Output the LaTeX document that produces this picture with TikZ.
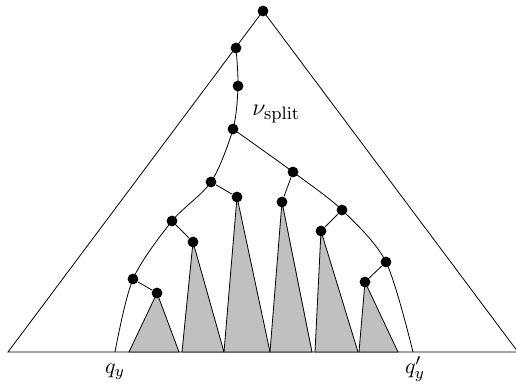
\documentclass[tikz,border=0pt]{standalone}
\usepackage{amsmath}
\usepackage{xcolor}
\usepackage{tikz}
\usetikzlibrary{positioning,backgrounds}
\definecolor{subgray}{RGB}{192,192,192}
\tikzset{
  dot/.style={circle,fill=black,inner sep=0pt,minimum size=5.4pt},
  subtree/.style={draw,fill=subgray},
  lbl/.style={inner sep=0pt,anchor=base,font=\fontsize{11}{13}\selectfont},
}

\begin{document}
\begin{tikzpicture}[x=0.5pt,y=-0.5pt,line width=0.5pt]
  \useasboundingbox (0,0) rectangle (516,387);
  % spine down to the split node
  \node[dot] (top) at (263,11) {};
  \node[dot] (u1) at (236,48) {};
  \node[dot] (u2) at (238,86) {};
  \node[dot] (vs) at (233,129) {};
  \node[lbl,anchor=base west,font=\fontsize{12.5}{15}\selectfont]
       (lsplit) at (252,115) {$\nu_{\mathrm{split}}$};
  % left and right search paths
  \node[dot] (l1) at (211,182) {};
  \node[dot] (l2) at (172,221) {};
  \node[dot] (l3) at (133,279) {};
  \node[dot] (r1) at (293,172) {};
  \node[dot] (r2) at (342,210) {};
  \node[dot] (r3) at (386,262) {};
  % roots of the hanging subtrees
  \node[dot] (s1) at (157,293) {};
  \node[dot] (s2) at (193,242) {};
  \node[dot] (s3) at (237,197) {};
  \node[dot] (s4) at (282,202) {};
  \node[dot] (s5) at (321,231) {};
  \node[dot] (s6) at (365,282) {};
  \coordinate (bl) at (8,352);
  \coordinate (br) at (518,352);
  \coordinate (qy) at (115,352);
  \coordinate (qyp) at (413,352);
  \node[lbl] (lqy) at ([yshift=-10.5pt]qy) {$q_y$};
  \node[lbl] (lqyp) at ([xshift=1pt,yshift=-10.5pt]qyp) {$q'_y$};
  \begin{scope}[on background layer]
    \draw (top.center) -- (bl) -- (br) -- cycle;
    \draw plot[smooth] coordinates {(u1.center) (u2.center) (vs.center)
      (l1.center) (l2.center) (l3.center) (qy)};
    \draw plot[smooth] coordinates {(vs.center) (r1.center) (r2.center)
      (r3.center) (qyp)};
    \foreach \s/\p/\a/\b in {s1/l3/129/179, s2/l2/182/224, s3/l1/224/270,
                              s4/r1/270/312, s5/r2/315/358, s6/r3/359/398}{
      \draw (\p) -- (\s);
      \filldraw[subtree] (\s.center) -- (\a,352) -- (\b,352) -- cycle;
    }
  \end{scope}
\end{tikzpicture}
\end{document}
